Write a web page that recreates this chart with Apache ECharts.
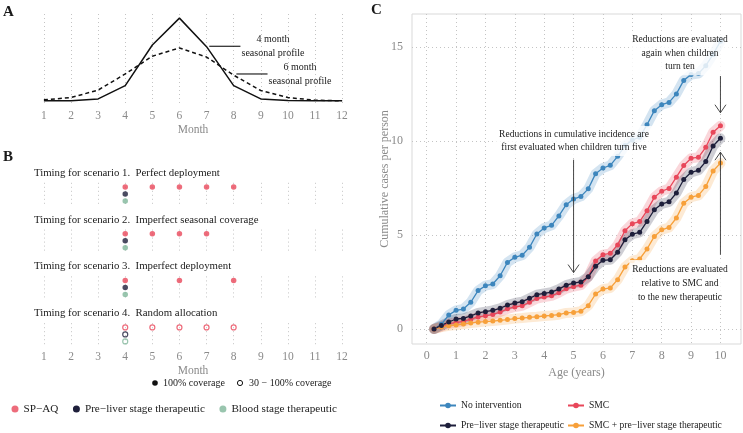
<!DOCTYPE html>
<html>
<head>
<meta charset="utf-8">
<script src="https://cdn.jsdelivr.net/npm/echarts@6.0.0/dist/echarts.min.js"></script>
<style>
  html, body { margin: 0; padding: 0; background: #fff; }
  #main { width: 743px; height: 433px; }
</style>
</head>
<body>
<div id="main"></div>
<script>
var FONT = '"Liberation Serif", "DejaVu Serif", serif';
var GREY = '#8a8a8a';
var GRIDC = '#c4c4c4';

// panel A: seasonal profiles
var months = [1, 2, 3, 4, 5, 6, 7, 8, 9, 10, 11, 12];
var profile4 = [0, 0, 0.024, 0.185, 0.675, 1.0, 0.655, 0.185, 0.024, 0.004, 0, 0];
var profile6 = [0.012, 0.04, 0.13, 0.325, 0.54, 0.64, 0.53, 0.31, 0.125, 0.04, 0.008, 0];

// panel B: deployment months per scenario
var scenarioTitles = [
  'Timing for scenario 1.  Perfect deployment',
  'Timing for scenario 2.  Imperfect seasonal coverage',
  'Timing for scenario 3.  Imperfect deployment',
  'Timing for scenario 4.  Random allocation'
];
var spaqMonths = [[4, 5, 6, 7, 8], [4, 5, 6, 7], [4, 6, 8], [4, 5, 6, 7, 8]];
var preLiverMonths = [[4], [4], [4], [4]];
var bloodMonths = [[4], [4], [4], [4]];
var fullCoverage = [true, true, true, false];

// panel C: cumulative cases per person
var ages = [0.25, 0.5, 0.75, 1, 1.25, 1.5, 1.75, 2, 2.25, 2.5, 2.75, 3, 3.25, 3.5, 3.75, 4,
  4.25, 4.5, 4.75, 5, 5.25, 5.5, 5.75, 6, 6.25, 6.5, 6.75, 7, 7.25, 7.5, 7.75, 8,
  8.25, 8.5, 8.75, 9, 9.25, 9.5, 9.75, 10];
var noIntervention = [0, 0.25, 0.74, 0.99, 1.06, 1.42, 2.04, 2.3, 2.39, 2.83, 3.54, 3.81, 3.92, 4.34, 5.05, 5.37,
  5.51, 6.01, 6.61, 6.91, 7.05, 7.45, 8.26, 8.56, 8.7, 9.18, 9.75, 10.05, 10.2, 10.86, 11.61, 11.93,
  12.05, 12.5, 13.22, 13.53, 13.58, 14.0, 14.6, 15.3];
var smc = [0, 0.12, 0.28, 0.34, 0.4, 0.52, 0.64, 0.7, 0.77, 0.9, 1.07, 1.17, 1.23, 1.42, 1.62, 1.7,
  1.76, 1.93, 2.14, 2.25, 2.33, 2.78, 3.62, 3.95, 4.02, 4.47, 5.22, 5.6, 5.71, 6.29, 7.0, 7.33,
  7.47, 8.07, 8.69, 9.08, 9.13, 9.66, 10.46, 10.81];
var preLiver = [0, 0.19, 0.37, 0.53, 0.56, 0.69, 0.85, 0.92, 0.99, 1.1, 1.27, 1.38, 1.45, 1.63, 1.82, 1.89,
  1.96, 2.12, 2.33, 2.44, 2.5, 2.77, 3.33, 3.65, 3.68, 4.08, 4.74, 5.04, 5.14, 5.72, 6.34, 6.65,
  6.76, 7.23, 7.95, 8.33, 8.44, 8.9, 9.73, 10.14];
var smcPreLiver = [0, 0.1, 0.17, 0.21, 0.26, 0.32, 0.36, 0.39, 0.42, 0.46, 0.5, 0.55, 0.58, 0.62, 0.65, 0.69,
  0.72, 0.76, 0.85, 0.88, 0.94, 1.24, 1.86, 2.12, 2.18, 2.62, 3.29, 3.63, 3.72, 4.25, 4.92, 5.27,
  5.4, 5.9, 6.69, 7.01, 7.1, 7.57, 8.4, 8.82];
var ageTicks = [0, 1, 2, 3, 4, 5, 6, 7, 8, 9, 10];
var caseTicks = [0, 5, 10, 15];

var RED = '#e8475a', NAVY = '#1e1f3b', GREEN = '#7fb79a', BLUE = '#3d86bd', ORANGE = '#f7a03a';

var chart = echarts.init(document.getElementById('main'));

function pairs(xs, ys) {
  return xs.map(function (x, i) { return [x, ys[i]]; });
}

function monthAxis(gridIndex, withLabels) {
  return {
    type: 'value', gridIndex: gridIndex, min: 0.45, max: 12.55,
    axisLine: { show: false },
    axisTick: { show: false, customValues: months },
    axisLabel: { show: withLabels, customValues: months, color: GREY, fontFamily: FONT, fontSize: 11.5, margin: 5 },
    splitLine: { show: true, lineStyle: { color: GRIDC, type: [1, 3], width: 1 } },
    name: withLabels ? 'Month' : '', nameLocation: 'middle', nameGap: 19,
    nameTextStyle: { color: GREY, fontFamily: FONT, fontSize: 11.5 }
  };
}

var facetTops = [182.8, 229.6, 276.4, 323.2];
var grids = [{ left: 29, top: 14, width: 328, height: 91 }];
facetTops.forEach(function (t) { grids.push({ left: 29, top: t, width: 328, height: 22.4 }); });
grids.push({ left: 412, top: 14, width: 329, height: 330, show: true, borderColor: '#d9d9d9', borderWidth: 1 });

var xAxes = [monthAxis(0, true)];
var yAxes = [{ type: 'value', gridIndex: 0, min: -0.05, max: 1.05, show: false }];
for (var f = 0; f < 4; f++) {
  xAxes.push(monthAxis(f + 1, f === 3));
  yAxes.push({ type: 'value', gridIndex: f + 1, min: -0.6, max: 2.6, inverse: true, show: false });
}
xAxes.push({
  type: 'value', gridIndex: 5, min: -0.5, max: 10.7,
  axisLine: { show: false },
  axisTick: { show: false, customValues: ageTicks },
  axisLabel: { customValues: ageTicks, color: GREY, fontFamily: FONT, fontSize: 12, margin: 6 },
  splitLine: { show: true, lineStyle: { color: GRIDC, type: [1, 3], width: 1 } },
  name: 'Age (years)', nameLocation: 'middle', nameGap: 22,
  nameTextStyle: { color: GREY, fontFamily: FONT, fontSize: 12 }
});
yAxes.push({
  type: 'value', gridIndex: 5, min: -0.8, max: 16.75,
  axisLine: { show: false },
  axisTick: { show: false, customValues: caseTicks },
  axisLabel: { customValues: caseTicks, color: GREY, fontFamily: FONT, fontSize: 12, margin: 9 },
  splitLine: { show: true, lineStyle: { color: GRIDC, type: [1, 3], width: 1 } },
  name: 'Cumulative cases per person', nameLocation: 'middle', nameGap: 21, nameMoveOverlap: false,
  nameTextStyle: { color: GREY, fontFamily: FONT, fontSize: 12 }
});

var series = [];
// panel C first so its legend picks the line icons
var cSeries = [
  ['No intervention', noIntervention, BLUE],
  ['SMC', smc, RED],
  ['SMC + pre\u2212liver stage therapeutic', smcPreLiver, ORANGE],
  ['Pre\u2212liver stage therapeutic', preLiver, NAVY]
];
cSeries.forEach(function (s) {
  series.push({
    name: s[0], type: 'line', xAxisIndex: 5, yAxisIndex: 5, data: pairs(ages, s[1]),
    symbol: 'circle', symbolSize: 5, color: s[2], z: 3,
    lineStyle: { width: 1.3 }
  });
});
cSeries.forEach(function (s) {
  series.push({
    type: 'line', xAxisIndex: 5, yAxisIndex: 5, data: pairs(ages, s[1]),
    symbol: 'none', silent: true, z: 1,
    lineStyle: { color: s[2], width: 10, opacity: 0.22, cap: 'round', join: 'round' }
  });
});

// panel A
series.push({
  type: 'line', xAxisIndex: 0, yAxisIndex: 0, data: pairs(months, profile4),
  symbol: 'none', lineStyle: { color: '#111', width: 1.5 }
});
series.push({
  type: 'line', xAxisIndex: 0, yAxisIndex: 0, data: pairs(months, profile6),
  symbol: 'none', lineStyle: { color: '#111', width: 1.5, type: [4, 3] }
});

// panel B
var rows = [
  ['SP\u2212AQ', spaqMonths, RED],
  ['Pre\u2212liver stage therapeutic', preLiverMonths, NAVY],
  ['Blood stage therapeutic', bloodMonths, GREEN]
];
for (var k = 0; k < 4; k++) {
  rows.forEach(function (r, ri) {
    var full = fullCoverage[k];
    series.push({
      name: r[0], type: 'scatter', xAxisIndex: k + 1, yAxisIndex: k + 1,
      data: r[1][k].map(function (m) { return [m, ri]; }),
      symbol: 'circle', symbolSize: full ? 5.5 : 5,
      itemStyle: full ? { color: r[2] } : { color: 'rgba(255,255,255,0)', borderColor: r[2], borderWidth: 1.2 }
    });
  });
}

chart.setOption({
  animation: false,
  backgroundColor: '#fff',
  grid: grids,
  xAxis: xAxes,
  yAxis: yAxes,
  series: series,
  legend: [
    {
      data: [{ name: 'SP\u2212AQ', icon: 'circle' }, { name: 'Pre\u2212liver stage therapeutic', icon: 'circle' },
        { name: 'Blood stage therapeutic', icon: 'circle' }],
      left: 11.5, top: 403.5, padding: 0, itemWidth: 7, itemHeight: 7, itemGap: 14.5, selectedMode: false,
      textStyle: { fontFamily: FONT, fontSize: 11.2, color: '#222' }
    },
    {
      data: ['No intervention', 'Pre\u2212liver stage therapeutic'],
      orient: 'vertical', left: 439, top: 400.5, padding: 0, itemWidth: 16, itemHeight: 7, itemGap: 10,
      selectedMode: false, textStyle: { fontFamily: FONT, fontSize: 9.6, color: '#222' }
    },
    {
      data: ['SMC', 'SMC + pre\u2212liver stage therapeutic'],
      orient: 'vertical', left: 567, top: 400.5, padding: 0, itemWidth: 16, itemHeight: 7, itemGap: 10,
      selectedMode: false, textStyle: { fontFamily: FONT, fontSize: 9.6, color: '#222' }
    }
  ]
});

// annotations
function txt(x, y, text, opt) {
  opt = opt || {};
  return {
    type: 'text', z: 100, x: x, y: y,
    style: {
      text: text, fill: opt.fill || '#1a1a1a',
      font: (opt.weight || 'normal') + ' ' + (opt.size || 11) + 'px ' + FONT,
      align: opt.align || 'left', verticalAlign: opt.va || 'middle',
      lineHeight: opt.lh, backgroundColor: opt.bg, padding: opt.pad
    }
  };
}
function seg(pts, color, w) {
  return { type: 'polyline', z: 100, shape: { points: pts }, style: { stroke: color || '#333', lineWidth: w || 0.8, fill: null } };
}

var g = [];
g.push(txt(3, 12, 'A', { weight: 'bold', size: 15 }));
g.push(txt(3, 157, 'B', { weight: 'bold', size: 15 }));
g.push(txt(371, 10, 'C', { weight: 'bold', size: 15 }));

// panel A labels
var a1 = chart.convertToPixel({ gridIndex: 0 }, [7.1, 0.66]);
var a1e = chart.convertToPixel({ gridIndex: 0 }, [8.25, 0.66]);
g.push(seg([a1, a1e], '#111', 1.1));
g.push(txt(273, 46, '4 month\nseasonal profile', { align: 'center', size: 10, lh: 14 }));
var a2 = chart.convertToPixel({ gridIndex: 0 }, [8.1, 0.325]);
var a2e = chart.convertToPixel({ gridIndex: 0 }, [9.25, 0.325]);
g.push(seg([a2, a2e], '#111', 1.1));
g.push(txt(300, 74, '6 month\nseasonal profile', { align: 'center', size: 10, lh: 14 }));

// panel B facet titles
scenarioTitles.forEach(function (t, i) {
  g.push(txt(34, facetTops[i] - 9.8, t, { size: 10.8 }));
});

// coverage legend
g.push({ type: 'circle', z: 100, shape: { cx: 155, cy: 383, r: 2.8 }, style: { fill: '#111' } });
g.push(txt(163, 383, '100% coverage', { size: 10 }));
g.push({ type: 'circle', z: 100, shape: { cx: 240, cy: 383, r: 2.6 }, style: { fill: '#fff', stroke: '#111', lineWidth: 1 } });
g.push(txt(249, 383, '30 \u2212 100% coverage', { size: 10 }));

// panel C annotations
var bg = 'rgba(255,255,255,0.82)';
g.push(txt(574, 141, 'Reductions in cumulative incidence are\nfirst evaluated when children turn five',
  { align: 'center', size: 9.5, lh: 13, bg: bg, pad: [2, 3] }));
g.push(txt(680, 53, 'Reductions are evaluated\nagain when children\nturn ten',
  { align: 'center', size: 9.5, lh: 13.5, bg: bg, pad: [2, 3] }));
g.push(txt(680, 283, 'Reductions are evaluated\nrelative to SMC and\nto the new therapeutic',
  { align: 'center', size: 9.5, lh: 14, bg: bg, pad: [2, 3] }));

function arrow(age, fromV, toV) {
  var p0 = chart.convertToPixel({ gridIndex: 5 }, [age, fromV]);
  var p1 = chart.convertToPixel({ gridIndex: 5 }, [age, toV]);
  var dir = p1[1] > p0[1] ? -1 : 1;
  g.push(seg([p0, p1], '#333', 0.9));
  g.push(seg([[p1[0] - 5.5, p1[1] + dir * 8], p1, [p1[0] + 5.5, p1[1] + dir * 8]], '#333', 0.9));
}
arrow(5, 9.0, 3.0);
arrow(10, 13.45, 11.5);
arrow(10, 3.95, 9.4);

chart.setOption({ graphic: { elements: g } });
</script>
</body>
</html>
